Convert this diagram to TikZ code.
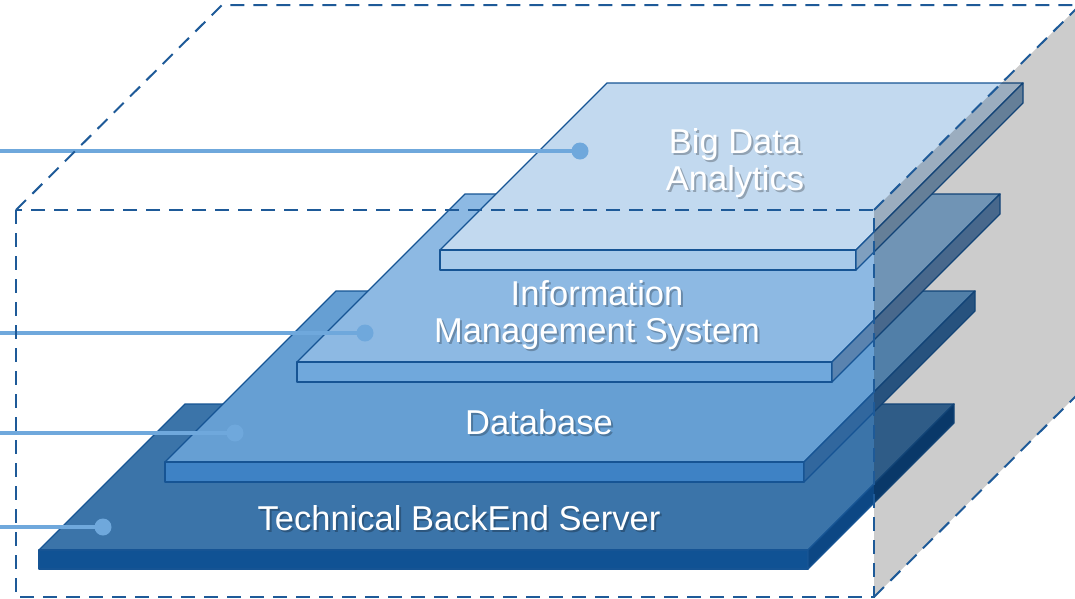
\documentclass[tikz,border=0pt]{standalone}
\usepackage{fontspec}
\setmainfont{Liberation Sans}
\usepackage{xcolor}
\definecolor{dashblue}{RGB}{30,90,152}
\definecolor{edgeblue}{RGB}{22,84,148}
\definecolor{leadblue}{RGB}{111,168,220}
\definecolor{sidegrey}{RGB}{204,204,204}
\definecolor{tbstop}{RGB}{59,116,169}
\definecolor{tbsfront}{RGB}{16,82,148}
\definecolor{tbsside}{RGB}{12,71,132}
\definecolor{dbtop}{RGB}{102,159,211}
\definecolor{dbfront}{RGB}{62,130,197}
\definecolor{dbside}{RGB}{49,103,158}
\definecolor{imstop}{RGB}{141,185,227}
\definecolor{imsfront}{RGB}{112,168,220}
\definecolor{imsside}{RGB}{90,131,175}
\definecolor{bdatop}{RGB}{194,217,239}
\definecolor{bdafront}{RGB}{168,202,234}
\definecolor{bdaside}{RGB}{127,159,191}
\usetikzlibrary{positioning}
% slab: left x, right x, front y, depth, thickness, colour prefix
\newcommand{\slab}[6]{%
  \filldraw[slabedge, fill=#6top] (#1,#3) -- (#2,#3) -- ++(#4,-#4) -- ++(#1-#2,0) -- cycle;
  \filldraw[slabedge, fill=#6front] (#1,#3) rectangle (#2,#3+#5);
  \filldraw[slabedge, fill=#6side] (#2,#3) -- ++(#4,-#4) -- ++(0,#5) -- (#2,#3+#5) -- cycle;
}
\tikzset{
  slabedge/.style={draw=edgeblue, line width=1.3pt, line join=round},
  boxline/.style={draw=dashblue, line width=2pt, dash pattern=on 14pt off 9pt},
  leader/.style={draw=leadblue, line width=3.5pt},
  dot/.style={circle, fill=leadblue, inner sep=0pt, minimum size=17pt},
  lbltxt/.style={text=white, align=center, font=\fontsize{34.5}{37}\selectfont, inner sep=0pt},
  txtshadow/.style={lbltxt, text=black, text opacity=0.25}
}

\begin{document}
\begin{tikzpicture}[x=1pt, y=-1pt]
  \useasboundingbox (0,0) rectangle (1075,598);
  % corners of the dashed box
  \coordinate (ftl) at (16,210);
  \coordinate (ftr) at (874,210);
  \coordinate (fbr) at (874,597);
  \coordinate (btl) at (222,5);
  \coordinate (btr) at (1080,5);
  \coordinate (bbr) at (1080,392);
  % layers, bottom to top
  \slab{39}{808}{550}{146}{19}{tbs}
  \slab{165}{804}{462}{171}{20}{db}
  \slab{297}{832}{362}{168}{20}{ims}
  \slab{440}{856}{250}{167}{20}{bda}
  % grey side face
  \begin{scope}[blend mode=multiply]
    \fill[sidegrey] (ftr) -- (btr) -- (bbr) -- (fbr) -- cycle;
  \end{scope}
  % leader lines
  \coordinate (lbda) at (0,151);
  \coordinate (lims) at (0,333);
  \coordinate (ldb) at (0,433);
  \coordinate (ltbs) at (0,527);
  \node[dot] (dbda) at (580,151) {};
  \node[dot] (dims) at (365,333) {};
  \node[dot] (ddb) at (235,433) {};
  \node[dot] (dtbs) at (103,527) {};
  \draw[leader] (lbda) -- (dbda.center);
  \draw[leader] (lims) -- (dims.center);
  \draw[leader] (ldb) -- (ddb.center);
  \draw[leader] (ltbs) -- (dtbs.center);
  % layer names
  \node[txtshadow] (tbs-sh) at (461,520) {Technical BackEnd Server};
  \node[lbltxt] (tbs) at (459,518) {Technical BackEnd Server};
  \node[txtshadow] (db-sh) at (541,424) {Database};
  \node[lbltxt] (db) at (539,422) {Database};
  \node[txtshadow] (ims-sh) at (599,317) {Information\\Management System};
  \node[lbltxt] (ims) at (597,315) {Information\\Management System};
  \node[txtshadow] (bda-sh) at (737,165) {Big Data\\Analytics};
  \node[lbltxt] (bda) at (735,163) {Big Data\\Analytics};
  % dashed box
  \draw[boxline] (ftl) rectangle (fbr);
  \draw[boxline] (ftl) -- (btl) -- (btr);
  \draw[boxline] (ftr) -- (btr);
  \draw[boxline] (fbr) -- (bbr);
\end{tikzpicture}
\end{document}
